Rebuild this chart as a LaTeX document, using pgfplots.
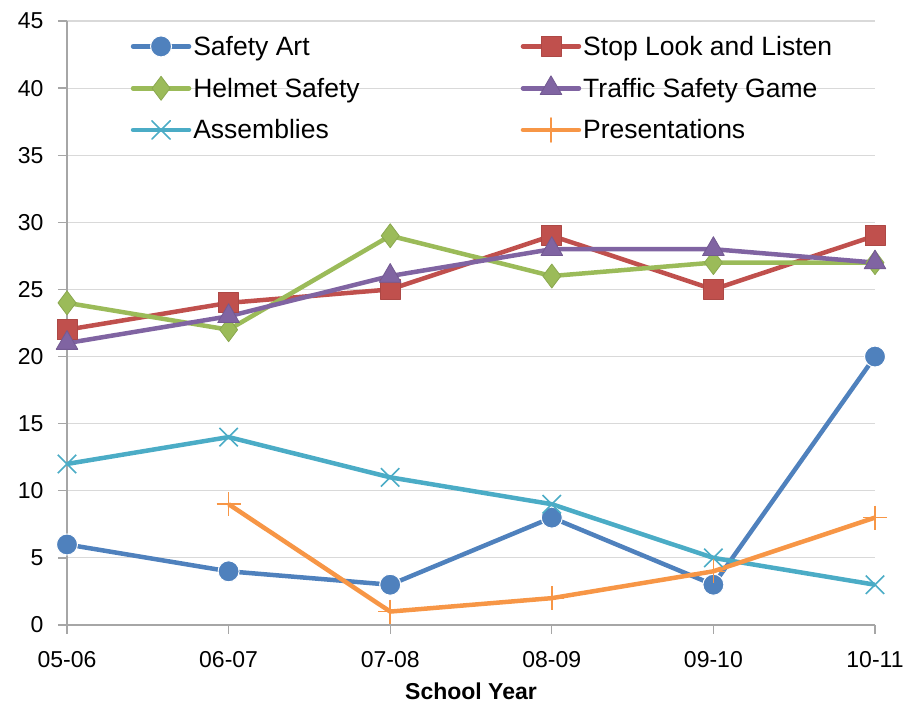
\documentclass[border=0pt]{standalone}
\usepackage{fontspec}
\setmainfont{Liberation Sans}
\usepackage{pgfplots}
\pgfplotsset{compat=1.18}
\definecolor{cArt}{HTML}{4F81BD}
\definecolor{cStop}{HTML}{C0504D}
\definecolor{cHelm}{HTML}{9BBB59}
\definecolor{cTraf}{HTML}{8064A2}
\definecolor{cAss}{HTML}{4BACC6}
\definecolor{cPres}{HTML}{F79646}
\definecolor{gridgray}{HTML}{D9D9D9}
\definecolor{axgray}{HTML}{A6A6A6}
\begin{document}
\begin{tikzpicture}
\begin{axis}[
  scale only axis, width=808pt, height=604pt,
  xmin=0, xmax=5, ymin=0, ymax=45,
  xtick={0,1,2,3,4,5},
  xticklabels={05-06,06-07,07-08,08-09,09-10,10-11},
  ytick={0,5,...,45},
  axis x line*=bottom, axis y line*=left,
  axis line style={-, draw=axgray, line width=1.3pt},
  ymajorgrids, grid style={draw=gridgray, line width=1.2pt},
  tick align=outside, major tick length=9pt,
  tick style={draw=axgray, line width=1.3pt},
  ticklabel style={font=\fontsize{23}{27}\selectfont},
  xticklabel style={yshift=-14pt},
  yticklabel style={xshift=-11pt},
  /pgf/number format/assume math mode=true,
  xlabel={School Year},
  xlabel style={font=\fontsize{23}{27}\selectfont\bfseries, yshift=-8pt},
  legend columns=2,
  legend cell align=left,
  legend style={draw=none, fill=none, font=\fontsize{26.5}{30}\selectfont,
    at={(0.075,0.982)}, anchor=north west, row sep=17pt,
    /tikz/every even column/.append style={column sep=159pt}},
  legend image code/.code={\draw[mark repeat=2,mark phase=2,line cap=round] plot coordinates {(0pt,0pt) (28pt,0pt) (56pt,0pt)};},
  every axis plot/.append style={line width=4.5pt, line join=round},
]
\addplot[cArt, mark=*, mark size=10.5pt, mark options={fill=cArt, draw=white, line width=1pt}]
  coordinates {(0,6) (1,4) (2,3) (3,8) (4,3) (5,20)};
\addlegendentry{Safety Art}
\addplot[cStop, mark=square*, mark size=10pt, mark options={fill=cStop, draw=cStop!90!black, line width=0.8pt}]
  coordinates {(0,22) (1,24) (2,25) (3,29) (4,25) (5,29)};
\addlegendentry{Stop Look and Listen}
\addplot[cHelm, mark=diamond*, mark size=12pt, mark options={fill=cHelm, draw=cHelm!90!black, line width=0.8pt}]
  coordinates {(0,24) (1,22) (2,29) (3,26) (4,27) (5,27)};
\addlegendentry{Helmet Safety}
\addplot[cTraf, mark=triangle*, mark size=12.5pt, mark options={fill=cTraf, draw=cTraf!90!black, line width=0.8pt}]
  coordinates {(0,21) (1,23) (2,26) (3,28) (4,28) (5,27)};
\addlegendentry{Traffic Safety Game}
\addplot[cAss, mark=x, mark size=13pt, mark options={line width=1.6pt}]
  coordinates {(0,12) (1,14) (2,11) (3,9) (4,5) (5,3)};
\addlegendentry{Assemblies}
\addplot[cPres, mark=+, mark size=12pt, mark options={line width=1.6pt}]
  coordinates {(1,9) (2,1) (3,2) (4,4) (5,8)};
\addlegendentry{Presentations}
\end{axis}
\path ([xshift=-67pt,yshift=-78pt]current axis.south west) rectangle ([xshift=49pt,yshift=21pt]current axis.north east);
\end{tikzpicture}
\end{document}
